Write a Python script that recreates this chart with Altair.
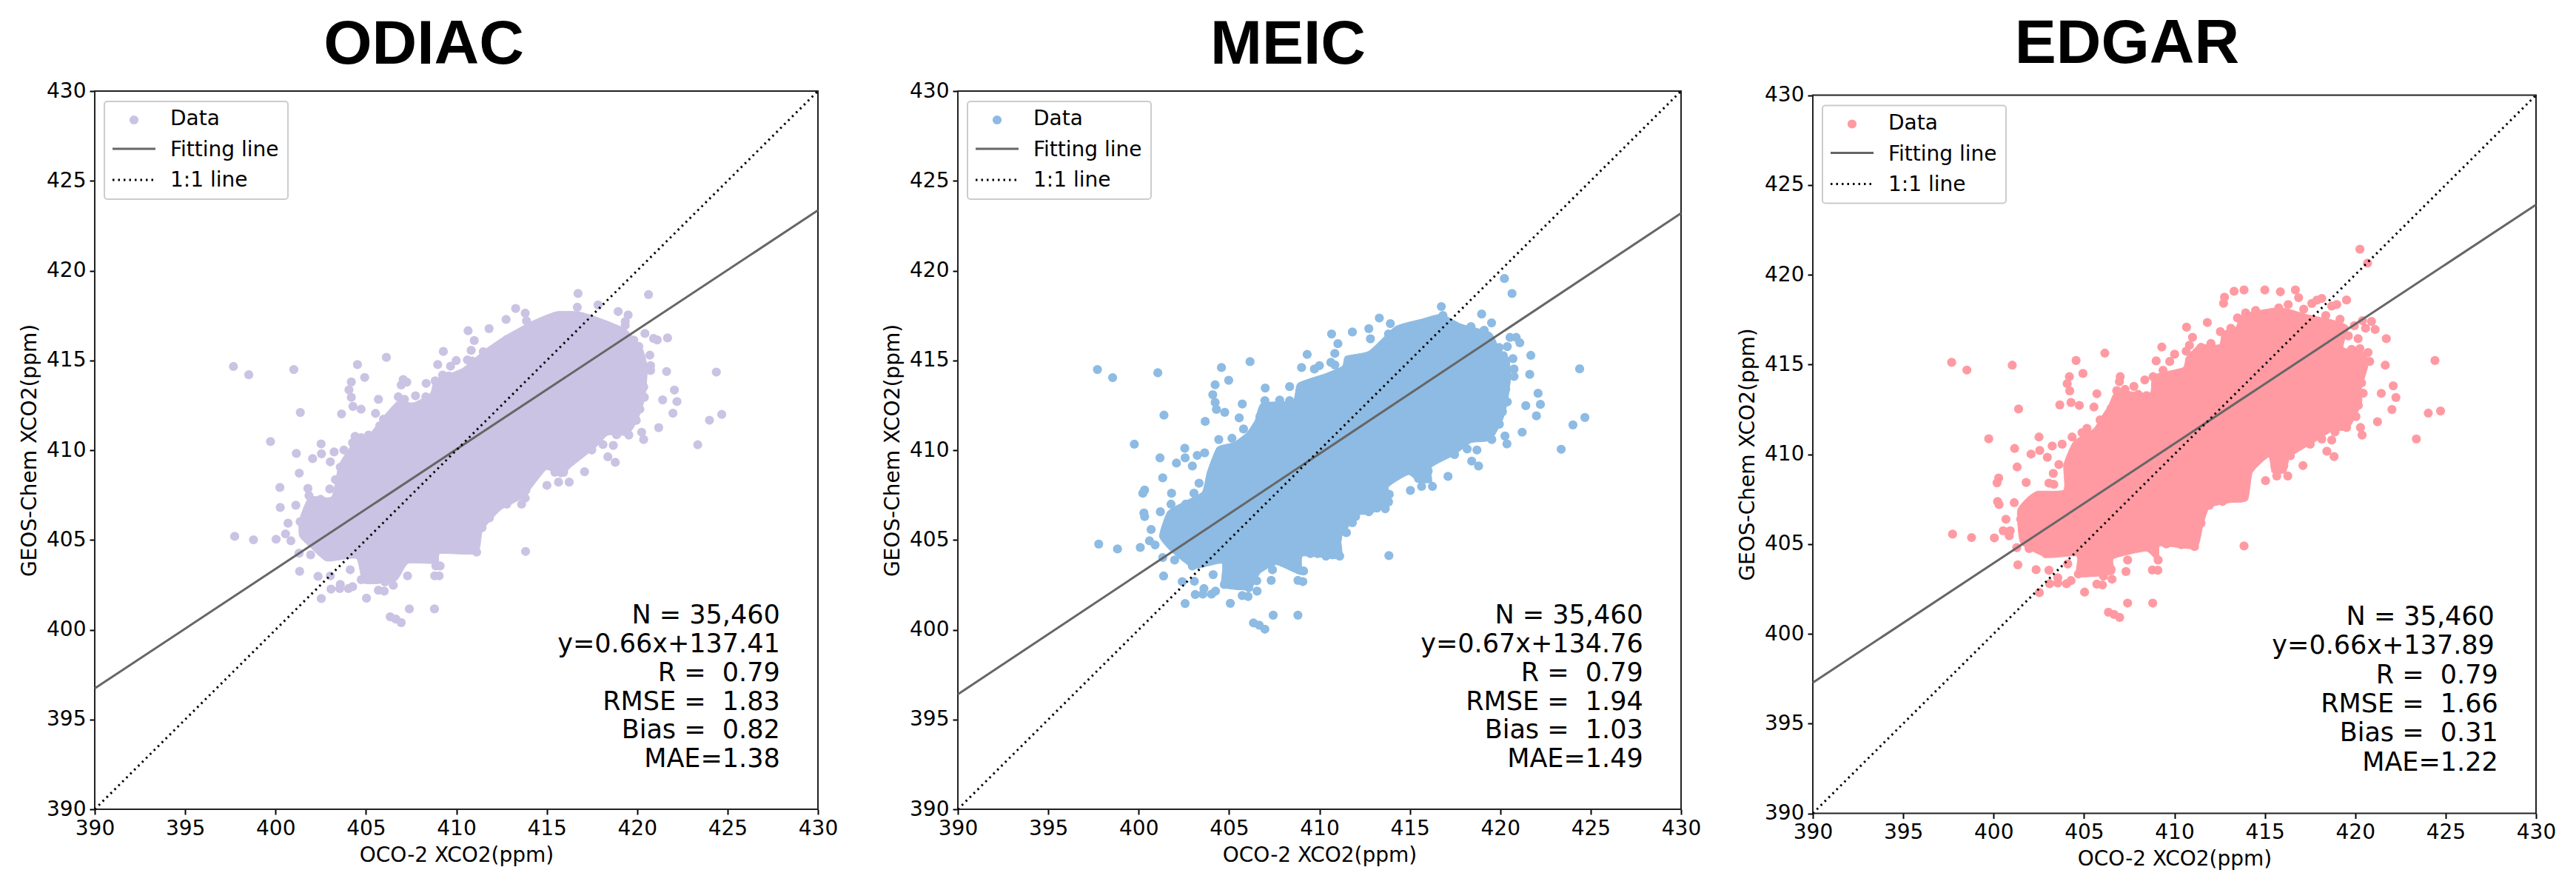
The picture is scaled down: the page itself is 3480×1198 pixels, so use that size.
import altair as alt
import pandas as pd

TICKS = [390, 395, 400, 405, 410, 415, 420, 425, 430]
LEGEND = ["Data", "Fitting line", "1:1 line"]
ONE_X = [390, 430]
ONE_Y = [390, 430]

# ---------- ODIAC ----------
od_color = "#CBC3E3"
od_stats = ["N = 35,460", "y=0.66x+137.41", "R =\u00a0 0.79", "RMSE =\u00a0 1.83", "Bias =\u00a0 0.82", "MAE=1.38"]
od_fit_y = [396.73, 423.36]
# outline of the solid core of the cloud
od_ox = [401.33, 401.87, 403.1, 403.51, 404.33, 405.15, 405.97, 406.79, 407.6, 408.56, 408.83, 410.33, 411.56, 412.65, 414.15, 415.52, 416.74, 417.7, 419.34, 420.29, 420.56, 420.43, 420.02, 419.47, 418.38, 417.7, 416.33, 415.79, 414.97, 413.74, 412.5, 411.83, 411.42, 411.15, 409.1, 408.97, 407.33, 406.65, 404.88, 404.47, 402.83, 402.01, 401.33]
od_oy = [406.16, 407.4, 407.4, 409.19, 410.42, 410.84, 411.87, 412.76, 412.62, 413.17, 413.93, 414.55, 415.58, 416.33, 417.16, 417.71, 417.71, 417.43, 416.75, 415.65, 414.55, 412.9, 411.66, 410.84, 410.84, 410.15, 409.05, 408.5, 408.91, 407.4, 406.71, 406.02, 405.47, 404.24, 404.24, 403.69, 403.69, 402.72, 402.59, 403.96, 403.82, 404.51, 405.2]
od_px = [397.67, 398.52, 401.01, 404.53, 406.13, 404.93, 404.19, 404.06, 404.19, 404.28, 404.73, 405.69, 403.65, 401.37, 405.53, 399.72, 402.52, 401.15, 402.54, 402.05, 401.31, 400.24, 400.26, 401.79, 401.12, 400.69, 401.36, 400.55, 400.85, 400.03, 397.74, 398.78, 401.3, 401.94, 401.33, 402.35, 403.03, 402.53, 403.07, 403.58, 403.55, 404.03, 404.26, 405.03, 405.69, 406.01, 406.51, 406.05, 407.3, 408.8, 409.05, 408.87, 409.1, 407.4, 408.79, 406.34, 406.65, 406.95, 404.74, 405.15, 405.56, 406.24, 404.13, 404.88, 413.83, 415.01, 415.65, 416.24, 417.09, 413.61, 413.81, 413.85, 412.79, 411.42, 411.77, 411.97, 411.12, 410.88, 410.95, 410.33, 409.51, 409.79, 416.73, 416.69, 417.84, 413.28, 413.81, 413.88, 412.75, 411.81, 410.65, 410.99, 410.82, 409.28, 410.61, 410.88, 409.99, 409.68, 408.97, 411.49, 411.97, 412.79, 408.33, 408.83, 409.24, 409.58, 407.06, 407.26, 406.95, 406.79, 407.13, 407.74, 408.31, 407.6, 406.79, 405.97, 405.76, 404.4, 405.15, 404.74, 404.26, 403.24, 403.78, 404.33, 403.03, 403.58, 403.31, 403.0, 401.85, 402.49, 402.15, 420.63, 418.95, 419.5, 419.34, 419.34, 420.43, 420.91, 421.11, 421.68, 419.81, 420.09, 420.7, 419.88, 420.22, 420.74, 420.74, 421.63, 424.38, 420.29, 420.15, 420.36, 422.06, 420.4, 419.75, 421.41, 422.2, 419.61, 420.15, 421.98, 424.68, 424.0, 419.95, 419.47, 418.99, 421.19, 420.25, 420.36, 419.54, 418.86, 418.45, 423.35, 418.68, 418.11, 417.49, 418.38, 418.79, 415.93, 415.45, 412.38, 411.83]
od_py = [414.66, 414.2, 414.49, 414.77, 415.17, 414.05, 413.8, 413.36, 412.94, 412.44, 412.28, 412.83, 412.02, 412.1, 412.05, 410.48, 410.35, 409.82, 409.8, 409.53, 408.72, 407.92, 406.81, 407.87, 406.93, 405.93, 406.02, 405.34, 404.95, 405.04, 405.2, 405.01, 404.26, 404.17, 403.25, 402.97, 403.0, 401.74, 402.26, 402.52, 402.29, 402.29, 402.4, 401.76, 402.2, 402.15, 402.48, 402.66, 403.0, 403.0, 403.0, 403.55, 403.55, 401.16, 401.16, 400.72, 400.59, 400.4, 402.79, 403.0, 402.79, 403.0, 403.34, 403.69, 404.36, 408.04, 408.22, 408.22, 408.8, 406.99, 407.33, 407.78, 406.99, 405.68, 406.23, 406.57, 404.32, 404.79, 405.41, 404.44, 404.51, 404.92, 418.73, 417.96, 418.09, 417.89, 417.63, 417.2, 417.28, 416.77, 416.65, 416.11, 415.56, 415.5, 415.03, 414.96, 414.99, 414.68, 414.77, 415.48, 415.51, 416.17, 413.72, 413.86, 414.18, 414.13, 413.93, 413.79, 413.63, 412.97, 412.83, 413.03, 412.97, 412.42, 412.35, 411.73, 411.36, 410.77, 410.84, 410.7, 410.42, 409.9, 410.01, 410.08, 409.35, 409.05, 408.36, 407.84, 407.47, 407.26, 406.57, 418.66, 417.72, 417.53, 417.16, 416.95, 416.5, 416.22, 416.14, 416.25, 416.13, 415.78, 415.29, 415.37, 415.03, 414.71, 414.44, 414.38, 414.35, 414.2, 413.52, 413.52, 413.35, 412.94, 413.03, 412.8, 412.71, 412.35, 412.28, 412.06, 411.99, 411.67, 411.66, 411.52, 411.66, 411.25, 411.0, 410.59, 410.84, 410.86, 411.45, 410.3, 410.26, 410.31, 410.01, 409.63, 409.32, 408.77, 408.77, 406.92, 406.23]

# ---------- MEIC ----------
me_color = "#8DBBE3"
me_stats = ["N = 35,460", "y=0.67x+134.76", "R =\u00a0 0.79", "RMSE =\u00a0 1.94", "Bias =\u00a0 1.03", "MAE=1.49"]
me_fit_y = [396.4, 423.2]
me_ox = [401.15, 401.6, 402.51, 403.52, 403.79, 404.34, 405.25, 405.98, 406.44, 406.8, 408.53, 408.81, 410.36, 411.27, 411.45, 412.73, 414.19, 415.65, 416.74, 417.84, 419.48, 419.94, 420.48, 420.57, 420.39, 420.12, 419.48, 418.39, 417.47, 416.2, 416.2, 415.47, 414.92, 413.82, 413.92, 412.73, 412.0, 411.45, 411.18, 411.18, 409.08, 408.99, 407.62, 406.71, 406.16, 404.61, 404.61, 403.06, 401.79]
me_oy = [405.2, 406.57, 407.12, 407.67, 408.77, 410.15, 410.42, 410.97, 411.66, 412.62, 412.76, 413.72, 414.27, 414.68, 415.23, 415.51, 416.88, 417.3, 417.57, 417.02, 416.54, 415.65, 415.1, 414.0, 412.62, 411.66, 410.56, 410.42, 409.74, 409.05, 408.22, 408.22, 408.64, 407.95, 406.99, 406.44, 406.37, 405.47, 405.06, 403.96, 404.1, 403.07, 403.62, 403.14, 402.24, 402.38, 403.69, 403.41, 404.37]
me_px = [397.72, 398.56, 401.06, 404.58, 406.16, 404.98, 404.23, 404.1, 404.23, 404.3, 404.76, 405.73, 405.56, 403.68, 401.4, 407.0, 408.35, 409.32, 409.01, 409.72, 410.0, 410.63, 410.85, 410.85, 411.02, 410.67, 411.82, 412.73, 412.82, 413.31, 413.92, 413.82, 416.74, 416.83, 420.23, 420.65, 418.97, 419.52, 418.38, 419.11, 420.54, 420.88, 421.08, 420.39, 419.94, 421.69, 420.17, 420.7, 420.76, 420.76, 421.63, 424.39, 420.3, 420.12, 422.09, 420.39, 421.41, 422.22, 422.0, 420.12, 419.57, 424.68, 424.02, 419.95, 419.02, 419.48, 421.21, 420.26, 420.37, 419.53, 418.9, 423.37, 418.71, 418.17, 417.47, 418.42, 418.8, 417.11, 416.25, 415.65, 415.03, 415.92, 415.47, 416.01, 413.84, 413.82, 413.64, 413.19, 412.73, 413.86, 412.0, 411.82, 411.49, 411.0, 411.12, 410.72, 410.36, 409.9, 409.5, 410.9, 409.12, 408.86, 409.08, 408.81, 408.81, 407.44, 407.33, 407.4, 406.55, 406.05, 405.73, 405.07, 406.09, 406.53, 405.52, 404.74, 404.25, 404.03, 403.61, 403.55, 403.13, 402.57, 403.08, 402.41, 404.12, 401.38, 401.33, 401.99, 402.97, 406.35, 406.67, 406.98, 397.79, 398.83, 400.09, 400.6, 400.91, 400.69, 401.2, 400.29, 400.33, 400.23, 400.33, 401.33, 401.82, 401.18, 399.76, 402.09, 402.55, 402.57, 403.24, 402.97, 403.65, 403.34, 403.06, 404.43, 405.16, 405.8, 406.71, 406.98, 407.8, 408.35, 402.6, 401.79]
me_py = [414.49, 414.04, 414.31, 414.6, 414.93, 413.89, 413.64, 413.09, 412.66, 412.27, 412.11, 412.57, 411.8, 411.6, 411.95, 413.46, 413.54, 415.33, 414.6, 414.52, 414.71, 414.89, 414.75, 415.39, 415.93, 416.47, 416.58, 416.77, 416.2, 417.36, 417.05, 416.47, 418.0, 417.5, 419.56, 418.73, 417.58, 417.09, 416.88, 416.68, 416.28, 416.28, 415.98, 415.77, 415.72, 415.28, 415.26, 415.1, 414.52, 414.11, 414.22, 414.53, 413.38, 413.17, 413.17, 412.69, 412.48, 412.55, 411.91, 412.14, 412.07, 411.82, 411.41, 411.45, 411.45, 411.11, 411.0, 410.79, 410.35, 410.59, 410.7, 410.05, 410.01, 410.07, 409.76, 409.39, 409.12, 408.54, 407.98, 407.98, 407.76, 408.43, 408.43, 408.84, 404.13, 407.12, 406.74, 406.78, 406.57, 407.54, 406.3, 405.96, 405.41, 405.06, 404.1, 404.17, 404.1, 404.24, 404.24, 405.61, 403.27, 403.34, 402.68, 402.75, 400.81, 400.81, 402.75, 403.34, 402.15, 401.85, 401.9, 401.47, 402.34, 402.73, 402.45, 402.52, 402.15, 401.98, 402.29, 401.98, 401.96, 401.46, 402.7, 402.68, 403.07, 402.99, 404.02, 403.88, 403.55, 400.38, 400.25, 400.03, 404.77, 404.5, 404.58, 404.95, 404.72, 405.58, 406.57, 406.5, 406.3, 407.6, 407.78, 408.46, 407.6, 409.57, 410.33, 409.28, 410.11, 409.57, 409.71, 409.12, 409.85, 408.16, 407.6, 410.59, 410.66, 411.18, 411.87, 412.76, 412.79, 412.76, 406.99, 406.99]

# ---------- EDGAR ----------
ed_color = "#FF9AA2"
ed_stats = ["N = 35,460", "y=0.66x+137.89", "R =\u00a0 0.79", "RMSE =\u00a0 1.66", "Bias =\u00a0 0.31", "MAE=1.22"]
ed_fit_y = [397.28, 423.9]
ed_ox = [401.32, 401.87, 402.42, 403.88, 403.88, 404.43, 405.53, 405.89, 406.35, 406.81, 408.64, 408.82, 410.47, 410.65, 411.38, 412.48, 412.66, 413.4, 413.76, 415.59, 416.32, 417.24, 418.88, 419.62, 419.34, 420.53, 420.71, 420.35, 420.35, 419.62, 418.7, 417.79, 416.41, 416.14, 415.41, 415.22, 414.31, 414.04, 413.03, 411.93, 411.57, 411.2, 409.19, 409.19, 408.46, 406.63, 406.63, 404.61, 404.61, 402.97, 401.5]
ed_oy = [406.87, 407.58, 407.94, 408.01, 409.43, 410.71, 411.41, 411.98, 412.69, 413.54, 413.4, 414.39, 414.82, 415.39, 416.1, 416.1, 416.81, 417.09, 417.8, 418.15, 418.08, 417.8, 417.44, 417.09, 415.95, 415.67, 414.96, 413.68, 412.83, 411.41, 411.27, 410.71, 409.85, 408.98, 408.98, 409.85, 408.98, 407.44, 407.3, 407.02, 406.02, 404.75, 404.89, 403.89, 404.6, 404.18, 403.33, 403.19, 404.32, 404.25, 405.03]
ed_px = [397.68, 398.52, 401.03, 404.56, 406.15, 404.94, 404.19, 404.07, 404.21, 404.28, 403.66, 404.74, 405.71, 405.55, 401.38, 407.0, 406.96, 408.36, 407.76, 407.27, 406.81, 399.73, 402.51, 401.16, 402.55, 402.07, 403.24, 403.79, 404.34, 402.97, 401.3, 403.3, 400.28, 400.19, 401.8, 403.06, 403.33, 400.22, 400.3, 401.14, 400.68, 401.5, 400.53, 400.92, 400.86, 397.73, 398.78, 400.04, 401.28, 401.96, 402.89, 401.34, 402.35, 403.06, 404.1, 402.53, 403.1, 403.55, 403.55, 404.03, 404.28, 404.69, 405.03, 405.71, 406.02, 406.55, 406.08, 406.5, 407.32, 407.41, 408.78, 409.08, 409.1, 408.91, 407.41, 408.8, 406.35, 406.66, 406.97, 405.53, 413.85, 411.11, 410.38, 409.55, 411.47, 411.93, 412.66, 413.18, 413.67, 413.85, 413.85, 415.04, 415.66, 416.27, 417.11, 416.05, 415.59, 416.41, 418.43, 418.83, 418.7, 418.15, 417.51, 418.88, 419.52, 420.29, 420.38, 421.23, 423.38, 420.04, 419.07, 419.62, 420.17, 422.03, 424.04, 424.72, 422.25, 421.44, 422.1, 420.44, 419.95, 419.34, 420.35, 420.31, 421.66, 424.41, 420.8, 420.71, 420.26, 419.8, 420.16, 421.72, 419.62, 421.1, 420.57, 420.9, 420.4, 419.95, 419.16, 418.37, 419.52, 418.98, 418.7, 418.15, 417.88, 417.6, 417.15, 416.87, 416.69, 415.86, 415.0, 413.85, 413.3, 412.77, 412.72, 414.49, 416.29, 415.77, 420.26, 420.68, 413.94, 413.49, 413.12, 412.54, 411.82, 410.67, 411.0, 412.02, 411.47, 410.83, 410.65, 409.3, 410.01, 408.99, 409.74, 409.37, 408.82, 408.0, 408.46, 406.5, 405.89, 405.16, 404.89, 403.61]
ed_py = [415.12, 414.69, 414.96, 415.22, 415.63, 414.5, 414.32, 413.93, 413.53, 412.88, 412.75, 412.72, 413.37, 412.63, 412.52, 414.32, 414.04, 414.14, 413.78, 413.61, 413.54, 410.86, 410.96, 410.32, 410.21, 410.01, 410.46, 410.56, 410.96, 409.83, 409.29, 408.93, 408.68, 408.41, 408.43, 408.39, 408.32, 407.37, 407.2, 407.3, 406.38, 406.38, 405.74, 405.74, 405.46, 405.55, 405.36, 405.34, 404.8, 404.75, 404.46, 403.84, 403.57, 403.54, 403.89, 402.29, 402.79, 403.12, 402.83, 402.79, 402.96, 403.33, 402.32, 402.77, 402.72, 403.04, 403.21, 403.58, 403.47, 404.11, 403.55, 403.54, 404.11, 404.6, 401.71, 401.71, 401.2, 401.08, 400.91, 403.47, 404.89, 404.86, 404.96, 405.0, 406.16, 407.16, 407.37, 407.58, 407.56, 407.94, 408.36, 408.53, 408.79, 408.79, 409.37, 409.36, 409.36, 409.92, 410.17, 409.87, 410.79, 410.85, 410.56, 411.24, 411.49, 411.49, 411.07, 411.81, 410.85, 412.1, 412.12, 412.69, 412.72, 412.49, 412.29, 412.41, 413.16, 413.39, 413.81, 413.4, 413.33, 413.4, 413.97, 414.54, 414.96, 415.22, 415.17, 415.67, 415.88, 415.84, 416.44, 416.44, 416.59, 416.95, 417.02, 417.4, 417.44, 417.16, 417.52, 417.73, 418.59, 418.34, 418.25, 418.68, 418.58, 418.4, 418.08, 418.72, 419.15, 419.05, 419.15, 419.15, 419.08, 418.75, 418.41, 418.01, 418.34, 418.15, 421.42, 420.64, 417.87, 417.59, 417.02, 416.83, 417.34, 417.08, 416.51, 416.17, 415.95, 416.07, 415.74, 415.97, 415.57, 415.2, 415.17, 414.68, 414.32, 413.33, 413.26, 412.55, 411.91, 411.44, 411.2, 409.43]

FONT = "DejaVu Sans"
W, H = 977, 970
FRAME = "#222222"


def panel(title, color, stats, fit_y, ox, oy, px, py, title_dx, title_dy, text_x, text_ys, shift=0):
    """shift lowers the plot frame inside the view by this many pixels."""
    height = H + shift
    yscale = alt.Scale(domain=[390, 430], nice=False, range=[height, shift])
    X = alt.X("x:Q", scale=alt.Scale(domain=[390, 430], nice=False),
              axis=alt.Axis(values=TICKS, title="OCO-2 XCO2(ppm)", grid=False, labelFlush=False,
                            format="d", labelOverlap=False, titlePadding=8))
    Y = alt.Y("y:Q", scale=yscale,
              axis=alt.Axis(values=TICKS, title="GEOS-Chem XCO2(ppm)", grid=False, labelFlush=False,
                            format="d", labelOverlap=False, titlePadding=8))

    frame = alt.Chart(pd.DataFrame({"x": [390], "x2": [430], "y": [390], "y2": [430]})).mark_rect(
        fill="#ffffff", stroke=FRAME, strokeWidth=2).encode(x=X, x2="x2:Q", y=Y, y2="y2:Q")
    core = alt.Chart(pd.DataFrame({"x": ox, "y": oy, "i": list(range(len(ox)))})).mark_line(
        color=color, fill=color, interpolate="cardinal-closed", tension=0.5, strokeWidth=1).encode(
        x=X, y=Y, order="i:Q")
    pts = alt.Chart(pd.DataFrame({"x": px, "y": py})).mark_circle(color=color, size=150, opacity=1).encode(x=X, y=Y)
    fit = alt.Chart(pd.DataFrame({"x": ONE_X, "y": fit_y})).mark_line(color="#666666", strokeWidth=3).encode(x=X, y=Y)
    one = alt.Chart(pd.DataFrame({"x": ONE_X, "y": ONE_Y})).mark_line(
        color="#000000", strokeWidth=3, strokeDash=[2.5, 5]).encode(x=X, y=Y)
    txt = alt.Chart(pd.DataFrame({"x": text_x, "y": text_ys, "t": stats})).mark_text(
        font=FONT, fontSize=35, align="right", baseline="middle", color="#000000").encode(x=X, y=Y, text="t:N")

    d = pd.DataFrame({"a": [1]})
    box = alt.Chart(d).mark_rect(fill="#ffffff", stroke="#cccccc", strokeWidth=2, cornerRadius=4).encode(
        x=alt.value(13), x2=alt.value(261), y=alt.value(14 + shift), y2=alt.value(146 + shift))
    l1 = alt.Chart(d).mark_circle(color=color, size=150, opacity=1).encode(x=alt.value(53), y=alt.value(39 + shift))
    l2 = alt.Chart(d).mark_rule(color="#666666", strokeWidth=3).encode(
        x=alt.value(24), x2=alt.value(82), y=alt.value(78 + shift))
    l3 = alt.Chart(d).mark_rule(color="#000000", strokeWidth=3, strokeDash=[2.5, 5]).encode(
        x=alt.value(24), x2=alt.value(82), y=alt.value(120 + shift))
    lt = [alt.Chart(pd.DataFrame({"t": [s]})).mark_text(
        font=FONT, fontSize=28, align="left", baseline="alphabetic", color="#000000").encode(
        x=alt.value(102), y=alt.value(yy + shift), text="t:N") for s, yy in zip(LEGEND, [46, 88, 129])]

    return alt.layer(frame, core, pts, fit, one, txt, box, l1, l2, l3, *lt).properties(
        width=W, height=height,
        title=alt.TitleParams(title, font="Liberation Sans", fontSize=84, fontWeight="bold",
                              color="#000000", anchor="middle", dx=title_dx, dy=title_dy, offset=1))


TY12 = [400.8, 399.2, 397.6, 396.0, 394.4, 392.8]
TY3 = [400.94, 399.32, 397.7, 396.08, 394.46, 392.83]

p1 = panel("ODIAC", od_color, od_stats, od_fit_y, od_ox, od_oy, od_px, od_py, -44, -4, [427.9] * 6, TY12)
p2 = panel("MEIC", me_color, me_stats, me_fit_y, me_ox, me_oy, me_px, me_py, -42.5, -4, [427.9] * 6, TY12)
p3 = panel("EDGAR", ed_color, ed_stats, ed_fit_y, ed_ox, ed_oy, ed_px, ed_py, -64, -11,
           [427.7, 427.7, 427.9, 427.9, 427.9, 427.9], TY3, shift=5.5)

chart = alt.hconcat(alt.hconcat(p1, p2, spacing=59), p3, spacing=48).properties(
    padding={"left": 18, "top": 9, "right": 0, "bottom": 0}
).configure_view(stroke="transparent").configure_axis(
    labelFont=FONT, titleFont=FONT, labelFontSize=28, titleFontSize=28, titleFontWeight="normal",
    labelColor="#000000", titleColor="#000000", tickColor="#000000", tickSize=7, tickWidth=2,
    labelPadding=5, domain=False
)

chart.save("out.html", embed_options={"renderer": "svg", "actions": False})
